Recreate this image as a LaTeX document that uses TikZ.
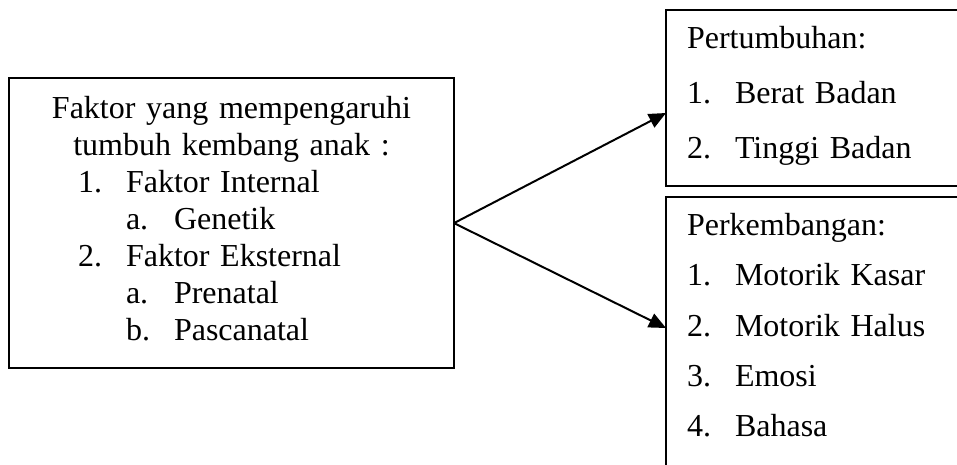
\documentclass[tikz,border=0pt]{standalone}
\usepackage{fontspec}
\setmainfont{Liberation Serif}
\usetikzlibrary{arrows.meta,positioning,calc}
\newcommand{\litem}[2]{\makebox[18pt][l]{#1}#2}

\begin{document}
\begin{tikzpicture}[
  x=0.375pt, y=-0.375pt,
  font=\fontsize{12}{13.875}\selectfont,
  box/.style={draw, line width=0.75pt, anchor=north west, outer sep=0pt,
    inner xsep=7.875pt, inner ysep=6pt, align=left},
  arr/.style={-{Triangle[length=6.4pt, width=5.6pt]}, line width=0.75pt}
]
\useasboundingbox (0,0) rectangle (957,464);
\clip (0,0) rectangle (957,464);
\node[box, inner xsep=11.25pt, inner ysep=6.75pt, text width=144.375pt] (fk) at (9,78)
  {{\centering Faktor yang mempengaruhi\\ tumbuh kembang anak :\par}
   \hspace*{14.625pt}\litem{1.}{Faktor Internal}\\
   \hspace*{32.625pt}\litem{a.}{Genetik}\\
   \hspace*{14.625pt}\litem{2.}{Faktor Eksternal}\\
   \hspace*{32.625pt}\litem{a.}{Prenatal}\\
   \hspace*{32.625pt}\litem{b.}{Pascanatal}\rule[-3.75pt]{0pt}{3.75pt}};
% the two right boxes run past the right (and bottom) edge
\node[box, text width=104.25pt, font=\fontsize{12}{20.6}\selectfont] (tum) at (666,10)
  {Pertumbuhan:\\
   \litem{1.}{Berat Badan}\\
   \litem{2.}{Tinggi Badan}\rule[-4.5pt]{0pt}{4.5pt}};
\node[box, text width=104.25pt, font=\fontsize{12}{18.9}\selectfont] (kem) at (666,197)
  {Perkembangan:\\
   \litem{1.}{Motorik Kasar}\\
   \litem{2.}{Motorik Halus}\\
   \litem{3.}{Emosi}\\
   \litem{4.}{Bahasa}\rule[-30pt]{0pt}{30pt}};
\draw[arr] (fk.east) -- ($(tum.north west)+(0,103)$);
\draw[arr] (fk.east) -- ($(kem.north west)+(0,131)$);
\end{tikzpicture}
\end{document}
